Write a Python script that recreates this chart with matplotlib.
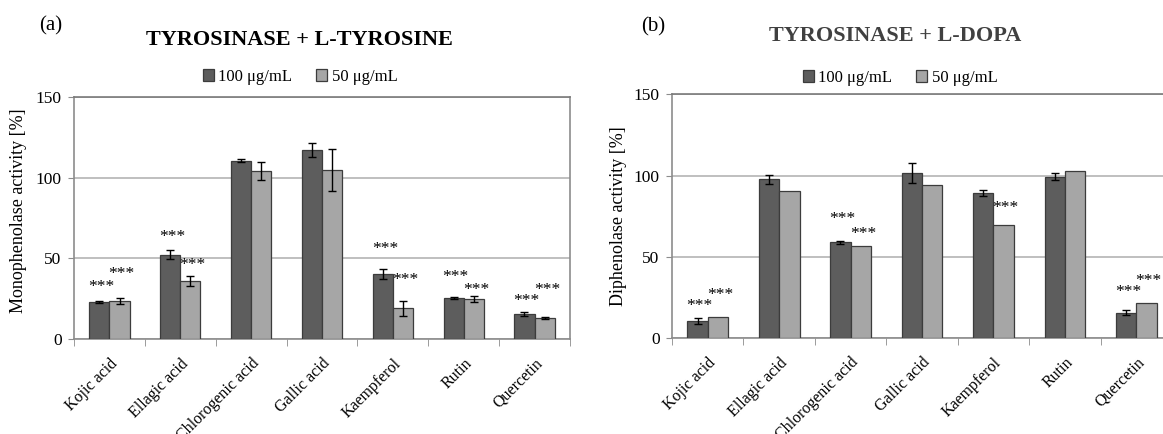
import numpy as np
import matplotlib as mpl
import matplotlib.pyplot as plt

categories = ["Kojic acid", "Ellagic acid", "Chlorogenic acid", "Gallic acid",
              "Kaempferol", "Rutin", "Quercetin"]
series_labels = ["100 μg/mL", "50 μg/mL"]

# (a) tyrosinase + L-tyrosine
mono_100 = [22.9, 52.3, 110.5, 117.0, 40.1, 25.2, 15.5]
mono_100_err = [0.5, 2.9, 1.0, 4.5, 3.0, 0.6, 1.4]
mono_50 = [23.5, 36.0, 104.0, 104.6, 19.0, 25.0, 13.0]
mono_50_err = [2.0, 3.0, 5.5, 13.0, 4.8, 1.9, 0.5]
mono_100_stars = [32.4, 63.4, None, None, 56.0, 38.6, 23.6]
mono_50_stars = [40.1, 46.0, None, None, 36.6, 30.4, 30.4]

# (b) tyrosinase + L-DOPA
diph_100 = [10.6, 97.7, 59.0, 101.6, 89.2, 99.4, 15.6]
diph_100_err = [1.7, 2.8, 0.9, 6.4, 1.7, 2.2, 1.7]
diph_50 = [12.9, 90.8, 56.5, 94.1, 69.6, 102.9, 21.7]
diph_100_stars = [19.8, None, 73.0, None, None, None, 28.2]
diph_50_stars = [26.7, None, 64.3, None, 80.2, None, 35.1]

mpl.rcParams.update({
    "font.family": ["Liberation Serif", "DejaVu Serif"],
    "font.size": 12,
})

DARK, LIGHT = "#5d5d5d", "#a6a6a6"
EDGE = "#3c3c3c"
GRID = "#b4b4b4"
SPINE = "#8c8c8c"


def panel(ax, v100, e100, v50, e50, s100, s50, ylabel):
    x = np.arange(len(categories))
    w = 0.285
    ax.bar(x - w/2, v100, w, color=DARK, edgecolor=EDGE, linewidth=0.9,
           label=series_labels[0], zorder=3)
    ax.bar(x + w/2, v50, w, color=LIGHT, edgecolor=EDGE, linewidth=0.9,
           label=series_labels[1], zorder=3)
    ax.errorbar(x - w/2, v100, yerr=e100, fmt="none", ecolor="black",
                elinewidth=1, capsize=3, capthick=1, zorder=4)
    if e50 is not None:
        ax.errorbar(x + w/2, v50, yerr=e50, fmt="none", ecolor="black",
                    elinewidth=1, capsize=3, capthick=1, zorder=4)
    for i in range(len(categories)):
        if s100[i] is not None:
            ax.text(x[i] - w/2 + 0.03, s100[i], "***", ha="center", va="center",
                    fontsize=12.5, zorder=5)
        if s50[i] is not None:
            ax.text(x[i] + w/2 + 0.03, s50[i], "***", ha="center", va="center",
                    fontsize=12.5, zorder=5)

    ax.set_xlim(-0.5, len(categories) - 0.5)
    ax.set_ylim(0, 150)
    ax.set_yticks([0, 50, 100, 150])
    ax.yaxis.grid(True, color=GRID, linewidth=1.2, zorder=0)
    ax.set_axisbelow(True)
    for s in ax.spines.values():
        s.set_color(SPINE)
        s.set_linewidth(1.2)
    ax.spines["top"].set_color("#7a7a7a")
    ax.tick_params(axis="y", length=4, color=SPINE, pad=5, labelsize=12.5)

    ax.set_xticks(x)
    ax.set_xticklabels(categories, rotation=45, ha="right",
                       rotation_mode="anchor", fontsize=11.5)
    ax.tick_params(axis="x", which="major", length=0, pad=12)
    ax.set_xticks(np.arange(len(categories) + 1) - 0.5, minor=True)
    ax.tick_params(axis="x", which="minor", length=5, color=SPINE)
    ax.set_ylabel(ylabel, fontsize=13)


fig = plt.figure(figsize=(11.63, 4.34), dpi=100)
ax1 = fig.add_axes([74/1163, 1 - 339/434, 496/1163, 242/434])
ax2 = fig.add_axes([672/1163, 1 - 338/434, 500/1163, 243.5/434])

panel(ax1, mono_100, mono_100_err, mono_50, mono_50_err,
      mono_100_stars, mono_50_stars, "Monophenolase activity [%]")
panel(ax2, diph_100, diph_100_err, diph_50, None,
      diph_100_stars, diph_50_stars, "Diphenolase activity [%]")

ax1.yaxis.set_label_coords(-47/496, 0.53)
ax2.yaxis.set_label_coords(-45/500, 0.5)

fig.text(39/1163, 1 - 26/434, "(a)", fontsize=15, va="center", ha="left")
fig.text(641/1163, 1 - 27/434, "(b)", fontsize=15, va="center", ha="left")
fig.text(299/1163, 1 - 40/434, "TYROSINASE + L-TYROSINE", fontsize=16,
         fontweight="bold", ha="center", va="center", color="black")
fig.text(895/1163, 1 - 36/434, "TYROSINASE + L-DOPA", fontsize=16,
         fontweight="bold", ha="center", va="center", color="#404040")

for ax, cx, cy in [(ax1, 300, 77), (ax2, 900, 78)]:
    h, l = ax.get_legend_handles_labels()
    fig.legend(h, l, loc="center", bbox_to_anchor=(cx/1163, 1 - cy/434),
               ncol=2, frameon=False, fontsize=12, handlelength=0.7,
               handleheight=0.7, handletextpad=0.25, columnspacing=1.4)

fig.savefig("out.png", dpi=100)
